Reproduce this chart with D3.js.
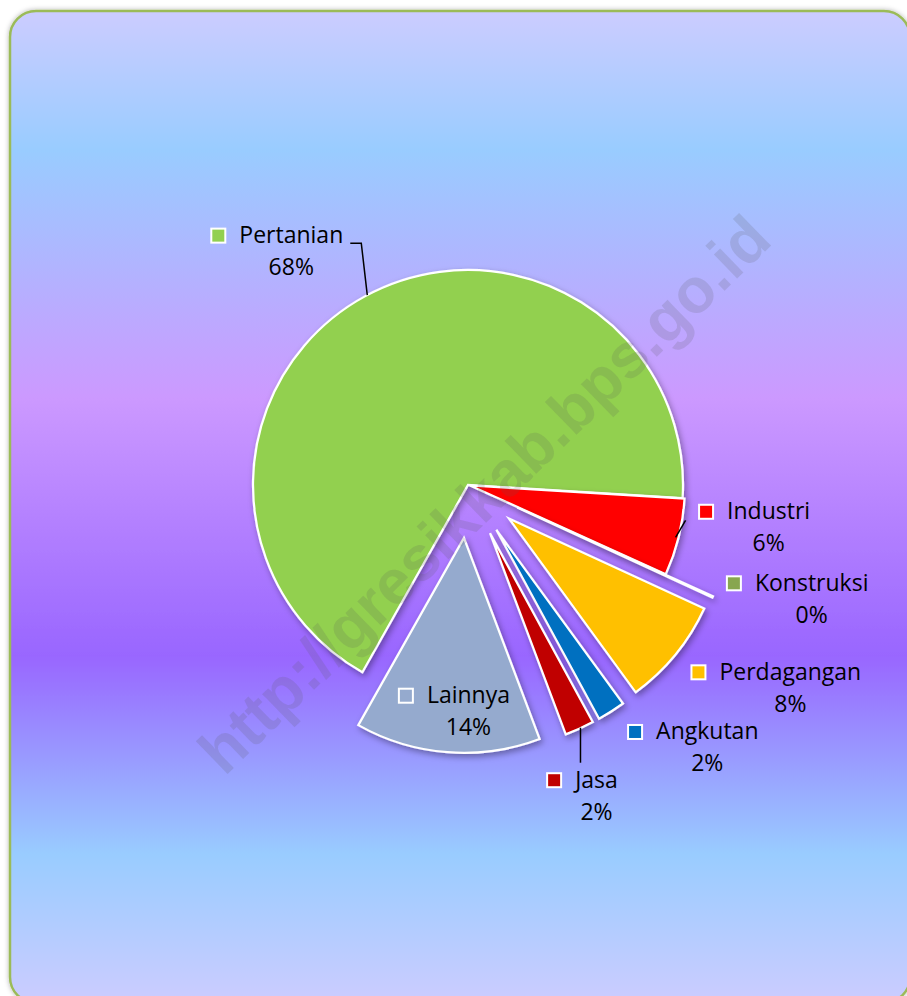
<!DOCTYPE html>
<html>
<head>
<meta charset="utf-8">
<script src="https://cdn.jsdelivr.net/npm/d3@7"></script>
<style>
  html, body { margin: 0; padding: 0; background: #ffffff; }
  svg { display: block; }
</style>
</head>
<body>
<div id="chart"></div>
<script>
// Pie chart of sector shares (exploded slices, Excel style)

// Data
const categories = ["Pertanian", "Industri", "Konstruksi", "Perdagangan", "Angkutan", "Jasa", "Lainnya"];
const shares = [67.8, 5.8, 0.1, 8.1, 2.1, 2.2, 13.9];
const watermark = "http://gresikkab.bps.go.id";

function createVisualization() {
    const svgWidth = 907;
    const svgHeight = 996;
    const cx = 468, cy = 485, radius = 215;
    const fontFamily = "'Open Sans', 'Noto Sans', sans-serif";

    const color = d3.scaleOrdinal()
        .domain(categories)
        .range(["#92d050", "#ff0000", "#88a64f", "#ffc000", "#0070c0", "#c00000", "#95aace"]);

    // how far each slice is pulled out of the pie
    const explode = { Pertanian: 0, Industri: 2, Konstruksi: 54, Perdagangan: 53, Angkutan: 53, Jasa: 53, Lainnya: 53 };

    // label offsets (name centre / baseline) from the slice's outer mid point
    const labelOffset = {
        Pertanian: [-74, -53], Industri: [90, -18], Konstruksi: [99, -6],
        Perdagangan: [115, 25], Angkutan: [96, 28], Jasa: [17, 59], Lainnya: [21, -49]
    };
    // leader lines, as points relative to the outer mid point
    const leaders = {
        Pertanian: [[2, -1], [-4, -53], [-15, -53]],
        Industri: [[-3, 0], [7, -17]],
        Jasa: [[1, -1], [1, 34]]
    };

    const svg = d3.select("#chart")
        .append("svg")
        .attr("width", svgWidth)
        .attr("height", svgHeight);

    const defs = svg.append("defs");

    const grad = defs.append("linearGradient")
        .attr("id", "bg")
        .attr("x1", 0).attr("y1", 0).attr("x2", 0).attr("y2", 1);
    [[0, "#ccccff"], [0.14, "#99ccff"], [0.39, "#cc99ff"], [0.65, "#9966ff"], [0.85, "#99ccff"], [1, "#ccccff"]]
        .forEach(s => grad.append("stop").attr("offset", s[0]).attr("stop-color", s[1]));

    const shadow = defs.append("filter")
        .attr("id", "shadow")
        .attr("x", "-20%").attr("y", "-20%").attr("width", "140%").attr("height", "140%");
    shadow.append("feDropShadow")
        .attr("dx", 2).attr("dy", 3).attr("stdDeviation", 3)
        .attr("flood-color", "#000").attr("flood-opacity", 0.35);

    const frameShadow = defs.append("filter")
        .attr("id", "frameShadow")
        .attr("x", "-5%").attr("y", "-5%").attr("width", "110%").attr("height", "110%");
    frameShadow.append("feDropShadow")
        .attr("dx", 0).attr("dy", 0).attr("stdDeviation", 2.5)
        .attr("flood-color", "#000").attr("flood-opacity", 0.3);

    // chart area frame
    svg.append("rect")
        .attr("x", 10).attr("y", 11)
        .attr("width", 900).attr("height", 992)
        .attr("rx", 26).attr("ry", 26)
        .attr("fill", "url(#bg)")
        .attr("stroke", "#9bbb59")
        .attr("stroke-width", 2.5)
        .attr("filter", "url(#frameShadow)");

    // pie layout
    const pie = d3.pie()
        .sort(null)
        .value(d => d.value)
        .startAngle((93.5 - 67.8 * 3.6) * Math.PI / 180);
    pie.endAngle(pie.startAngle()() + 2 * Math.PI);

    const data = categories.map((c, i) => ({ name: c, value: shares[i] }));
    const arcs = pie(data);

    const arc = d3.arc().innerRadius(0).outerRadius(radius);

    function midAngle(d) { return (d.startAngle + d.endAngle) / 2; }
    function shift(d) {
        const a = midAngle(d), e = explode[d.data.name];
        return [e * Math.sin(a), -e * Math.cos(a)];
    }
    function outerMid(d) {
        const a = midAngle(d), r = radius + explode[d.data.name];
        return [cx + r * Math.sin(a), cy - r * Math.cos(a)];
    }

    const pieG = svg.append("g")
        .attr("transform", `translate(${cx},${cy})`);

    pieG.selectAll(".slice")
        .data(arcs)
        .enter().append("path")
        .attr("class", "slice")
        .attr("transform", d => `translate(${shift(d)})`)
        .attr("d", arc)
        .attr("fill", d => color(d.data.name))
        .attr("stroke", "#ffffff")
        .attr("stroke-width", 2.25)
        .attr("stroke-linejoin", "miter")
        .attr("filter", "url(#shadow)");

    // watermark
    svg.append("text")
        .attr("transform", "translate(484,494) rotate(-44.2)")
        .attr("text-anchor", "middle")
        .attr("dominant-baseline", "central")
        .attr("font-family", "'Liberation Sans', Arial, sans-serif")
        .attr("font-weight", "bold")
        .attr("font-size", 63)
        .attr("fill", "#5a5a5a")
        .attr("fill-opacity", 0.17)
        .text(watermark);

    // leader lines
    const line = d3.line();
    svg.selectAll(".leader")
        .data(arcs.filter(d => leaders[d.data.name]))
        .enter().append("path")
        .attr("class", "leader")
        .attr("d", d => {
            const o = outerMid(d);
            return line(leaders[d.data.name].map(p => [o[0] + p[0], o[1] + p[1]]));
        })
        .attr("fill", "none")
        .attr("stroke", "#000")
        .attr("stroke-width", 1.5);

    // data labels: legend key + name, percentage below
    const labels = svg.selectAll(".label")
        .data(arcs)
        .enter().append("g")
        .attr("class", "label")
        .attr("transform", d => {
            const o = outerMid(d), off = labelOffset[d.data.name];
            return `translate(${o[0] + off[0]},${o[1] + off[1]})`;
        })
        .attr("font-family", fontFamily)
        .attr("font-size", 23)
        .attr("fill", "#000");

    labels.append("text")
        .attr("class", "name")
        .attr("text-anchor", "middle")
        .text(d => d.data.name);

    labels.append("text")
        .attr("text-anchor", "middle")
        .attr("y", 32)
        .text(d => Math.round(d.data.value) + "%");

    labels.each(function(d) {
        const g = d3.select(this);
        const w = g.select(".name").node().getComputedTextLength();
        g.insert("rect", ":first-child")
            .attr("x", -w / 2 - 28)
            .attr("y", -14.5)
            .attr("width", 14)
            .attr("height", 14)
            .attr("fill", color(d.data.name))
            .attr("stroke", "#ffffff")
            .attr("stroke-width", 2);
    });
}

createVisualization();
</script>
</body>
</html>
